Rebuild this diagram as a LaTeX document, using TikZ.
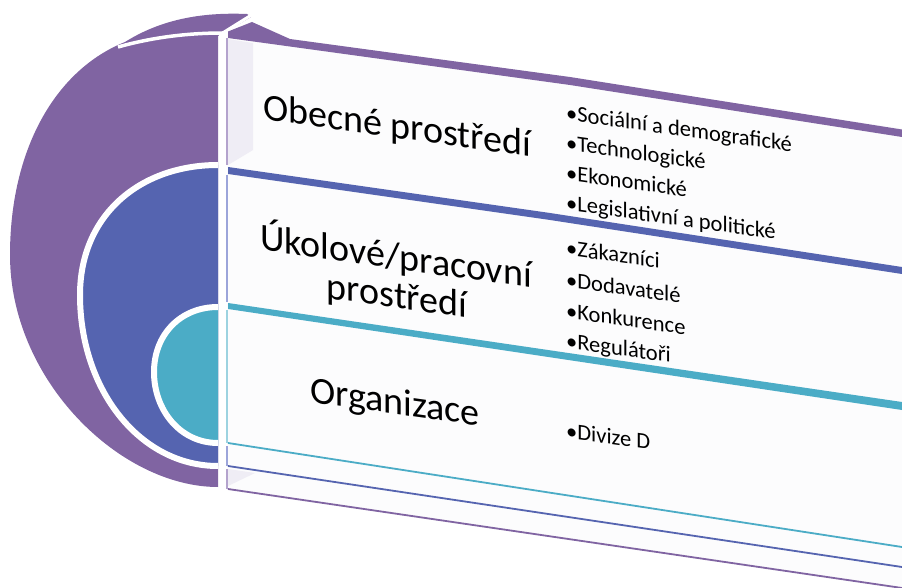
\documentclass[tikz,border=0pt]{standalone}
\usepackage{fontspec}
\setmainfont{Carlito}
\definecolor{cpurple}{HTML}{8064A2}
\definecolor{cblue}{HTML}{5564B0}
\definecolor{cteal}{HTML}{4BACC6}
\definecolor{panelbg}{HTML}{FCFCFD}
\definecolor{sideface}{HTML}{EFEDF5}
\definecolor{edgepurple}{HTML}{B4A3CD}
\definecolor{edgeblue}{HTML}{9CA5DA}
\definecolor{edgeteal}{HTML}{9DD3E0}
\begin{document}
\begin{tikzpicture}[x=1pt,y=-1pt,
  lbl/.style={font=\fontsize{38}{40}\selectfont, inner sep=0pt, anchor=base, yslant=-0.14},
  itm/.style={font=\fontsize{22.5}{24}\selectfont, inner sep=0pt, anchor=base west, yslant=-0.14},
  gap/.style={draw=white, line width=6pt}]
\useasboundingbox (0,0) rectangle (902,588);

% light panel behind the labels
\fill[panelbg] (227,33) -- (902,128) -- (902,588) -- (227,490) -- cycle;
% side faces of the rings
\fill[sideface] (227.5,39) -- (253,43) -- (253,150) -- (228,165) -- cycle;
\fill[sideface] (228,469) -- (255,473) -- (228,486) -- cycle;

% outer ring (purple) with its raised rim
\fill[cpurple] (218,487) .. controls (120,487) and (10,380) .. (10,255)
  .. controls (10,150) and (55,70) .. (125,42)
  .. controls (160,20) and (200,12) .. (247,14)
  -- (251,17) -- (224,33) -- (218,36) -- cycle;
\draw[white, line width=3.5pt] (118,47) .. controls (150,38) and (185,33) .. (223,33);
\draw[white, line width=3pt] (221,34) -- (253,14);
\fill[white] (218.5,33) rectangle (226,500);

% middle ring (blue)
\fill[cblue] (218,165) .. controls (140,165) and (80,215) .. (80,295)
  .. controls (80,390) and (140,466) .. (218,466) -- cycle;
\draw[gap] (218,165) .. controls (140,165) and (80,215) .. (80,295)
  .. controls (80,390) and (140,466) .. (218,466);

% inner ring (teal)
\fill[cteal] (218,307) .. controls (180,307) and (154,335) .. (154,372)
  .. controls (154,410) and (180,443) .. (218,443) -- cycle;
\draw[gap] (218,307) .. controls (180,307) and (154,335) .. (154,372)
  .. controls (154,410) and (180,443) .. (218,443);

% front edges of the rings
\draw[edgepurple, line width=1.3pt] (227,38) -- (227,165);
\draw[edgeblue, line width=1.3pt] (227,175) -- (227,302);
\draw[edgeteal, line width=1.3pt] (227,310) -- (227,443);
\draw[edgeblue, line width=1.3pt] (227,446) -- (227,466);
\draw[edgepurple, line width=1.3pt] (227,469) -- (227,489);

% band separators
\fill[cpurple] (228,31.5) -- (252,22) -- (290,39) -- (570,77) -- (902,129.5) -- (902,137) -- (570,85) -- (228,38) -- cycle;
\fill[cblue] (228,167) -- (550,213) -- (902,267) -- (902,274) -- (550,220) -- (228,174) -- cycle;
\fill[cteal] (228,303) -- (902,402) -- (902,410) -- (228,309) -- cycle;
\draw[cteal, line width=1.8pt] (228,443) -- (902,547);
\draw[cblue, line width=1.8pt] (228,466) -- (902,567);
\draw[cpurple, line width=1.8pt] (228,489) -- (902,588);

% ring labels
\node[lbl] (obecne) at (397,138) {Obecné prostředí};
\node[lbl] (ukol1) at (396,269) {Úkolové/pracovní};
\node[lbl] (ukol2) at (397,308) {prostředí};
\node[lbl] (org) at (395,414) {Organizace};

% bullet lists
\node[itm] (i1) at (566,120) {•Sociální a demografické};
\node[itm] (i2) at (566,150) {•Technologické};
\node[itm] (i3) at (566,180) {•Ekonomické};
\node[itm] (i4) at (566,210) {•Legislativní a politické};
\node[itm] (i5) at (566,255) {•Zákazníci};
\node[itm] (i6) at (566,287) {•Dodavatelé};
\node[itm] (i7) at (566,318) {•Konkurence};
\node[itm] (i8) at (566,348) {•Regulátoři};
\node[itm] (i9) at (566,438) {•Divize D};
\end{tikzpicture}
\end{document}
